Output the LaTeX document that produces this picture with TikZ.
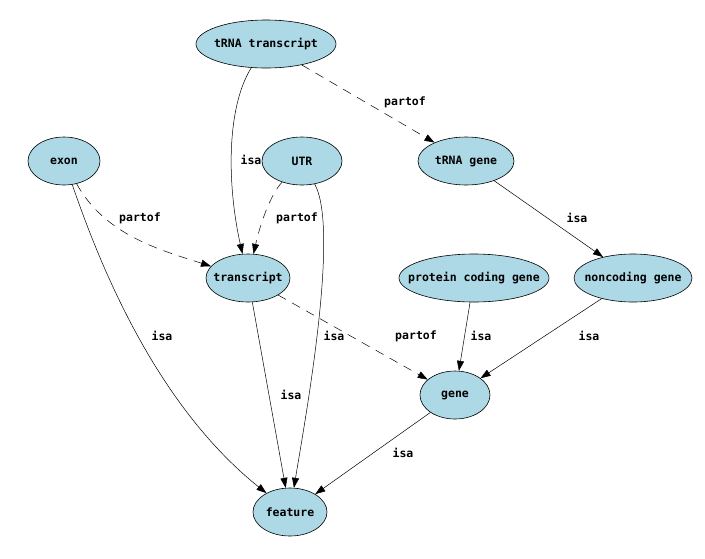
\documentclass[tikz,border=0pt]{standalone}
\usepackage{fontspec}
\setmonofont{DejaVu Sans Mono}
\usetikzlibrary{arrows.meta,shapes.geometric}
\newcommand{\zb}[1]{\makebox[0pt]{#1}}
\begin{document}
\begin{tikzpicture}[x=1pt,y=-1pt,
  nd/.style={ellipse,draw=black,fill={rgb,255:red,173;green,216;blue,230},line width=0.6pt,inner sep=0pt,minimum height=48pt,font=\ttfamily\bfseries\fontsize{11.5}{12}\selectfont},
  lbl/.style={font=\ttfamily\bfseries\fontsize{11.5}{12}\selectfont,inner sep=1pt},
  ed/.style={draw=black,line width=0.5pt,-{Triangle[length=10pt,width=7pt]}},
  dsh/.style={ed,dash pattern=on 9pt off 7pt}]
\useasboundingbox (0,0) rectangle (705,558);
\fill[white] (0,0) rectangle (705,558);
\node[nd,minimum width=140pt] (trt) at (266,44) {\zb{tRNA transcript}};
\node[nd,minimum width=72pt] (exon) at (64,161) {\zb{exon}};
\node[nd,minimum width=80pt] (utr) at (302,161) {\zb{UTR}};
\node[nd,minimum width=96pt] (trg) at (466,161) {\zb{tRNA gene}};
\node[nd,minimum width=84pt] (tr) at (248,278) {\zb{transcript}};
\node[nd,minimum width=150pt] (pcg) at (474,278) {\zb{protein coding gene}};
\node[nd,minimum width=118pt] (ncg) at (633,278) {\zb{noncoding gene}};
\node[nd,minimum width=70pt] (gene) at (455,395) {\zb{gene}};
\node[nd,minimum width=74pt] (feat) at (290,512) {\zb{feature}};

\draw[ed] (trt) .. controls (225,110) and (228,190) .. (tr);
\node[lbl] (l1) at (251,160) {isa};
\draw[dsh] (trt) -- (trg);
\node[lbl] (l2) at (405,102) {partof};
\draw[dsh] (exon) .. controls (105,235) and (160,250) .. (tr);
\node[lbl] (l3) at (140,218) {partof};
\draw[dsh] (utr) .. controls (270,195) and (260,225) .. (tr);
\node[lbl] (l4) at (297,218) {partof};
\draw[ed] (exon) .. controls (95,250) and (150,400) .. (feat);
\node[lbl] (l5) at (162,336) {isa};
\draw[ed] (utr) .. controls (340,230) and (305,420) .. (feat);
\node[lbl] (l6) at (334,336) {isa};
\draw[ed] (trg) -- (ncg);
\node[lbl] (l7) at (577,218) {isa};
\draw[ed] (tr) -- (feat);
\node[lbl] (l8) at (291,395) {isa};
\draw[dsh] (tr) -- (gene);
\node[lbl] (l9) at (416,336) {partof};
\draw[ed] (pcg) -- (gene);
\node[lbl] (l10) at (481,336) {isa};
\draw[ed] (ncg) -- (gene);
\node[lbl] (l11) at (589,336) {isa};
\draw[ed] (gene) -- (feat);
\node[lbl] (l12) at (403,453) {isa};
\end{tikzpicture}
\end{document}
